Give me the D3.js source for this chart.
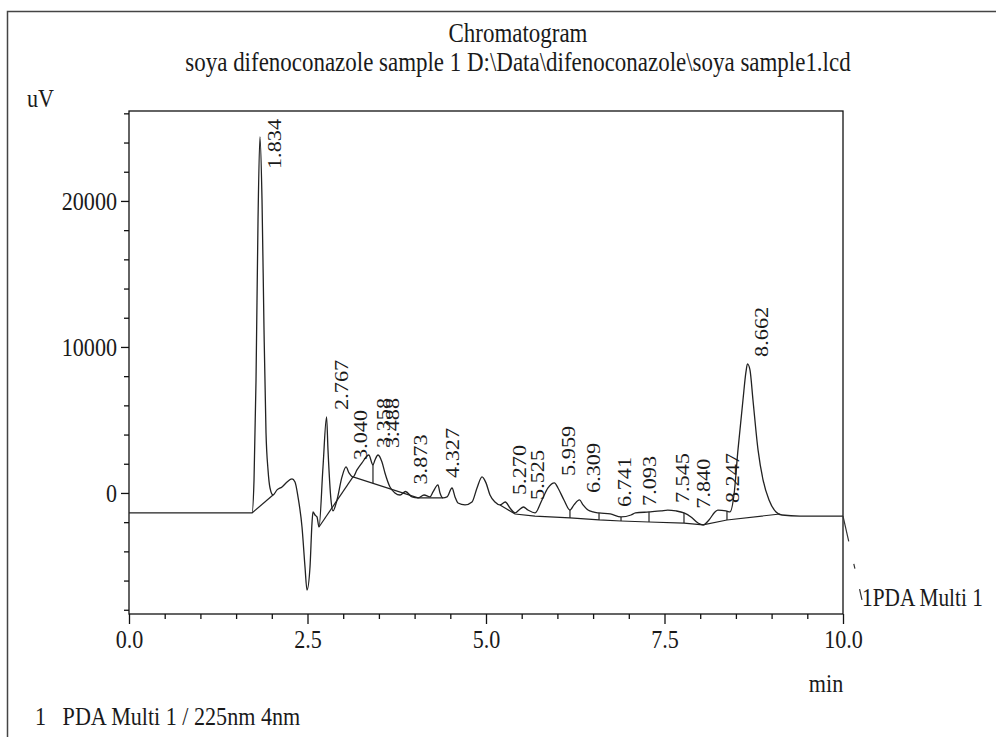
<!DOCTYPE html>
<html><head><meta charset="utf-8">
<script src="https://cdn.jsdelivr.net/npm/d3@7"></script>
<style>
body{margin:0;background:#fff}
svg{display:block}
text{font-family:"Liberation Serif","Times New Roman",Times,serif;fill:#1a1a1a}
</style>
</head><body>
<svg id="c" width="996" height="737"></svg>
<script>
// ---------------- data ----------------
const titleText = "Chromatogram";
const subtitleText = "soya difenoconazole sample 1 D:\\Data\\difenoconazole\\soya sample1.lcd";
const yUnit = "uV";
const xUnit = "min";
const footerText = "1   PDA Multi 1 / 225nm 4nm";
const traceName = "1PDA Multi 1";

const xMajorTicks = [0, 2.5, 5, 7.5, 10];
const yMajorTicks = [0, 10000, 20000];

// retention time (min) and signal (uV)
const traceTime = [0,1.723,1.751,1.779,1.807,1.834,1.863,1.891,1.919,1.947,1.975,2.017,2.073,2.143,2.213,2.283,2.325,2.367,2.423,2.465,2.493,2.535,2.563,2.577,2.605,2.633,2.661,2.717,2.767,2.787,2.829,2.857,2.913,2.983,3.040,3.081,3.137,3.193,3.263,3.358,3.417,3.445,3.488,3.543,3.585,3.655,3.725,3.796,3.873,3.964,4.048,4.132,4.216,4.258,4.327,4.356,4.398,4.454,4.524,4.566,4.608,4.706,4.804,4.874,4.944,5.000,5.056,5.126,5.196,5.270,5.336,5.406,5.462,5.525,5.588,5.686,5.784,5.868,5.959,6.008,6.092,6.176,6.232,6.309,6.359,6.429,6.499,6.583,6.741,6.891,7.031,7.093,7.283,7.451,7.545,7.661,7.773,7.871,7.969,8.039,8.123,8.207,8.247,8.361,8.417,8.473,8.529,8.599,8.641,8.662,8.697,8.739,8.810,8.880,8.964,9.062,9.146,9.398,10.0];
const traceSignal = [-1370,-1370,890,7740,18700,24390,20070,11170,4110,1580,340,-140,210,410,750,960,750,-270,-2330,-5070,-6650,-5070,-2060,-1300,-1510,-1640,-2330,1780,5210,2950,-480,-1230,-480,1100,1780,1370,1100,1580,2060,2600,1920,2260,2600,2120,1370,410,0,-140,100,-270,-340,-140,-270,70,550,0,-340,-270,340,-270,-690,-820,-620,340,1100,690,-140,-620,-820,-620,-1030,-1370,-1170,-960,-1170,-1370,-480,340,690,340,-480,-1170,-820,-480,-820,-1170,-1300,-1370,-1440,-1640,-1510,-1370,-1300,-1230,-1170,-1230,-1370,-1640,-2060,-2190,-1850,-1300,-1170,-1230,-1300,-140,2950,6370,8290,8840,8430,6370,2950,890,-480,-1300,-1510,-1580,-1580];

const peakTimes = [1.834,2.767,3.040,3.358,3.488,3.873,4.327,5.270,5.525,5.959,6.309,6.741,7.093,7.545,7.840,8.247,8.662];

// integration baselines: [time, uV] vertices
const baselineSegments = [
  [[1.723,-1370],[2.017,-140]],
  [[2.661,-2330],[3.137,1100]],
  [[3.137,1100],[4.048,-340],[4.398,-340]],
  [[5.196,-820],[5.406,-1440],[5.686,-1580],[6.176,-1710],[6.583,-1850],[6.891,-1920],[7.283,-1990],[7.773,-2060],[8.039,-2190],[8.375,-1850],[9.118,-1440]]
];
const dropLineTimes = [3.417,6.176,6.583,6.891,7.283,7.773,8.375];

// ---------------- drawing ----------------
const svg = d3.select("#c");
const X0 = 129, X1 = 843, Y0 = 614, Y1 = 111;
const x = d3.scaleLinear().domain([0,10]).range([X0,X1]);
const y = d3.scaleLinear().domain([-8290,26160]).range([Y0,Y1]);

function squeeze(sel, f){
  sel.each(function(){
    const w = this.getComputedTextLength();
    this.setAttribute("textLength", (w*f).toFixed(1));
    this.setAttribute("lengthAdjust","spacingAndGlyphs");
  });
}
const HS = 0.85; // horizontal text compression
const VS = 1.17; // rotated text stretch

// outer border (left & top)
svg.append("path").attr("d",`M7.5,737V11.5H996`).attr("fill","none").attr("stroke","#444").attr("stroke-width",1.5);

// titles
svg.append("text").attr("x",518).attr("y",42).attr("text-anchor","middle").attr("font-size",27).text(titleText).call(squeeze,HS);
svg.append("text").attr("x",518).attr("y",71).attr("text-anchor","middle").attr("font-size",27).text(subtitleText).call(squeeze,HS);
svg.append("text").attr("x",27).attr("y",107).attr("font-size",26).text(yUnit).call(squeeze,HS);

// frame
svg.append("rect").attr("x",X0).attr("y",Y1).attr("width",X1-X0).attr("height",Y0-Y1)
  .attr("fill","none").attr("stroke","#111").attr("stroke-width",1.3);

// y axis
const yMinor = d3.range(-8000, 26001, 2000).filter(v=>!yMajorTicks.includes(v));
const gyMinor = svg.append("g").attr("transform",`translate(${X0},0)`)
  .call(d3.axisLeft(y).tickValues(yMinor).tickSize(5).tickFormat(""));
const gy = svg.append("g").attr("transform",`translate(${X0},0)`)
  .call(d3.axisLeft(y).tickValues(yMajorTicks).tickSize(8).tickPadding(4).tickFormat(d3.format("d")));
[gyMinor,gy].forEach(g=>{g.select(".domain").remove();g.selectAll("line").attr("stroke","#111").attr("stroke-width",1.3);});
gy.selectAll("text").attr("font-size",26).attr("font-family",null).attr("fill","#1a1a1a").call(squeeze,HS);

// x axis
const xMinor = d3.range(0.5, 10, 0.5).filter(v=>!xMajorTicks.includes(v));
const gxMinor = svg.append("g").attr("transform",`translate(0,${Y0})`)
  .call(d3.axisBottom(x).tickValues(xMinor).tickSize(5).tickFormat(""));
const gx = svg.append("g").attr("transform",`translate(0,${Y0})`)
  .call(d3.axisBottom(x).tickValues(xMajorTicks).tickSize(10).tickPadding(6).tickFormat(d3.format(".1f")));
[gxMinor,gx].forEach(g=>{g.select(".domain").remove();g.selectAll("line").attr("stroke","#111").attr("stroke-width",1.3);});
gx.selectAll("text").attr("font-size",26).attr("font-family",null).attr("fill","#1a1a1a").call(squeeze,HS);

svg.append("text").attr("x",826).attr("y",692).attr("text-anchor","middle").attr("font-size",26).text(xUnit).call(squeeze,HS);
svg.append("text").attr("x",35).attr("y",725).attr("font-size",26).style("white-space","pre").text(footerText).call(squeeze,HS);

// trace
const pts = traceTime.map((t,i)=>[t,traceSignal[i]]);
const line = d3.line().x(d=>x(d[0])).y(d=>y(d[1])).curve(d3.curveMonotoneX);
svg.append("path").datum(pts).attr("d",line).attr("fill","none").attr("stroke","#222").attr("stroke-width",1.3);

// baselines
const bline = d3.line().x(d=>x(d[0])).y(d=>y(d[1]));
svg.selectAll(".bl").data(baselineSegments).join("path").attr("class","bl")
  .attr("d",bline).attr("fill","none").attr("stroke","#222").attr("stroke-width",1.2);

function interp(arr, t){
  for(let i=0;i<arr.length-1;i++){
    const a=arr[i], b=arr[i+1];
    if(t>=a[0] && t<=b[0]) return a[1]+(b[1]-a[1])*(t-a[0])/(b[0]-a[0]);
  }
  return null;
}
const allBase = baselineSegments.flat().sort((a,b)=>a[0]-b[0]);
dropLineTimes.forEach(t=>{
  const sv = interp(pts,t), bv = interp(allBase,t);
  svg.append("line").attr("x1",x(t)).attr("x2",x(t)).attr("y1",y(sv)).attr("y2",y(bv))
    .attr("stroke","#222").attr("stroke-width",1.2);
});

// leader past the end of trace
const lastPt = pts[pts.length-1];
svg.append("line").attr("x1",x(lastPt[0])).attr("y1",y(lastPt[1]))
  .attr("x2",x(10.266)).attr("y2",y(-7330))
  .attr("stroke","#333").attr("stroke-width",1.2).attr("stroke-dasharray","26,23,5,21,12");
svg.append("text").attr("transform","translate(862,606) scale(0.82,1)").attr("font-size",26).text(traceName);

// peak labels
peakTimes.forEach(t=>{
  const h = interp(pts,t);
  const txt = svg.append("text").attr("font-size",19).text(t.toFixed(3));
  squeeze(txt, VS);
  const len = +txt.attr("textLength");
  let ys = y(h) - 7;
  if (ys - len < Y1 + 8) ys = Y1 + 8 + len;
  txt.attr("transform",`translate(${x(t)+21},${ys}) rotate(-90)`);
});
</script>
</body></html>
